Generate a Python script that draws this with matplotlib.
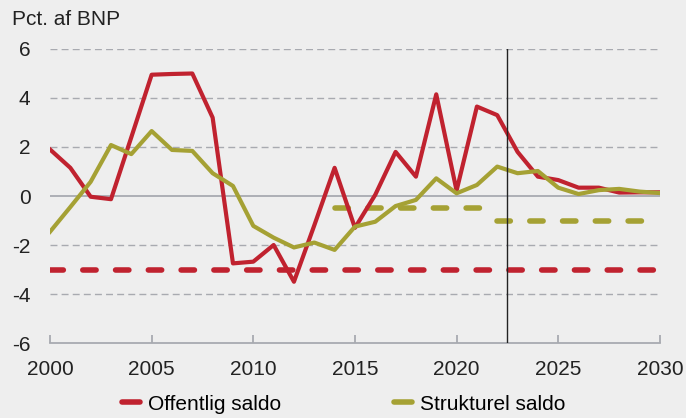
"""Offentlig og strukturel saldo, pct. af BNP."""

import matplotlib

matplotlib.use("Agg")

import matplotlib.pyplot as plt

years = list(range(2000, 2031))

offentlig_saldo = [
    1.9, 1.15, -0.03, -0.13, 2.4, 4.95, 4.98, 5.0, 3.2, -2.75,
    -2.68, -2.0, -3.5, -1.2, 1.15, -1.3, 0.05, 1.8, 0.79, 4.15,
    0.22, 3.65, 3.3, 1.8, 0.79, 0.65, 0.34, 0.34, 0.14, 0.15,
    0.15,
]

strukturel_saldo = [
    -1.46, -0.45, 0.58, 2.08, 1.71, 2.65, 1.88, 1.84, 0.93, 0.41,
    -1.22, -1.7, -2.1, -1.9, -2.2, -1.25, -1.05, -0.41, -0.16, 0.72,
    0.11, 0.45, 1.2, 0.93, 1.02, 0.34, 0.08, 0.24, 0.29, 0.18,
    0.12,
]

# Budgetgraenser
deficit_limit_years = [2000, 2030]
deficit_limit = [-3.0, -3.0]
struct_limit_old_years = [2014, 2021.2]
struct_limit_old = [-0.5, -0.5]
struct_limit_new_years = [2022, 2029.5]
struct_limit_new = [-1.0, -1.0]

forecast_start = 2022.5

y_ticks = [-6, -4, -2, 0, 2, 4, 6]
y_tick_labels = ["-6", "-4", "-2", "0", "2", "4", "6"]

RED = "#c0222f"
OLIVE = "#a5a134"
BG = "#eeeeee"
GRID = "#a8aab0"
TEXT = "#222222"

plt.rcParams["font.family"] = ["Liberation Sans", "DejaVu Sans"]

figure = plt.figure(figsize=(6.86, 4.18), dpi=100, facecolor=BG)
axes = figure.add_axes([0.0729, 0.1794, 0.889, 0.7034], facecolor=BG)

for value in [6, 4, 2, -2, -4]:
    axes.axhline(value, color=GRID, linewidth=1.0, dashes=(5, 3), zorder=1)
axes.axhline(0, color=GRID, linewidth=1.3, zorder=1)

for xs, ys, color in [
    (deficit_limit_years, deficit_limit, RED),
    (struct_limit_old_years, struct_limit_old, OLIVE),
    (struct_limit_new_years, struct_limit_new, OLIVE),
]:
    axes.plot(
        xs, ys, color=color, linewidth=4, dashes=(2.4, 3.5),
        dash_capstyle="round", zorder=2,
    )

axes.plot(
    years, offentlig_saldo,
    color=RED, linewidth=3, label="Offentlig saldo", zorder=3,
)
axes.plot(
    years, strukturel_saldo,
    color=OLIVE, linewidth=3, label="Strukturel saldo", zorder=3,
)

axes.axvline(forecast_start, color=TEXT, linewidth=1.0, zorder=4)

axes.set_xlim(2000, 2030)
axes.set_ylim(-6, 6)
axes.set_xticks(range(2000, 2031, 5))
axes.set_yticks(y_ticks, y_tick_labels)

for side in ["top", "right", "left"]:
    axes.spines[side].set_visible(False)
axes.spines["bottom"].set_color(GRID)
axes.spines["bottom"].set_linewidth(1.3)

axes.tick_params(axis="x", direction="in", length=6, color=GRID, width=1.3,
                 labelsize=15, pad=12, labelcolor=TEXT)
axes.tick_params(axis="y", length=0, labelsize=15, pad=14, labelcolor=TEXT)

figure.text(0.017, 0.953, "Pct. af BNP", fontsize=15, color=TEXT,
            va="center", ha="left")

legend = axes.legend(
    loc="upper center", bbox_to_anchor=(0.482, -0.112), ncol=2,
    frameon=False, fontsize=15, handlelength=0.85, handletextpad=0.4,
    columnspacing=5.4,
)
for line in legend.get_lines():
    line.set_linewidth(4)
    line.set_solid_capstyle("round")

figure.savefig("out.png", dpi=100, facecolor=BG)
plt.close(figure)
